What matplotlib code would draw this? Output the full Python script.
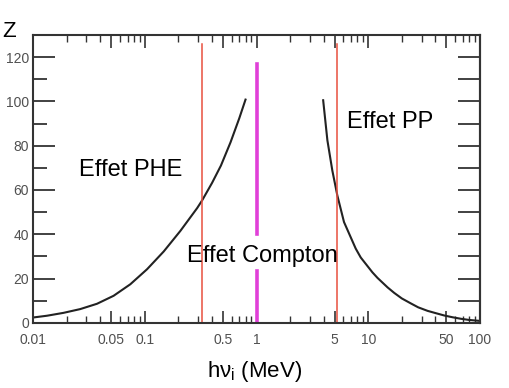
import numpy as np
import matplotlib.pyplot as plt
from matplotlib.ticker import FixedLocator, NullFormatter

# courbe limite PHE / Compton
phe_x = [0.01, 0.0133, 0.0187, 0.0264, 0.0373, 0.0525, 0.0741, 0.1047, 0.1475,
         0.208, 0.294, 0.326, 0.40, 0.48, 0.585, 0.70, 0.797]
phe_z = [2.4, 3.2, 4.5, 6.2, 8.6, 12.2, 17.4, 24.2, 32.2,
         41.5, 51.8, 55.3, 63.2, 71.0, 81.5, 92.3, 100.8]

# courbe limite Compton / PP
pp_x = [3.95, 4.31, 4.77, 5.29, 6.07, 7.73, 8.57, 10.9, 12.1, 14.9, 17.1, 20,
        24, 28, 34, 40, 48, 57, 68, 80, 98]
pp_z = [100.5, 82.4, 68.8, 57.5, 45.5, 33.5, 29.5, 22.8, 20.3, 16.0, 13.5, 11.0,
        8.8, 7.0, 5.4, 4.4, 3.3, 2.5, 1.8, 1.3, 0.9]

# lignes verticales
red_x = [0.326, 5.3]
red_top = 126
compton_x = 1.0
compton_segments = [(0, 23.5), (40.3, 117)]

x_ticks = [0.01, 0.05, 0.1, 0.5, 1, 5, 10, 50, 100]
x_labels = ['0.01', '0.05', '0.1', '0.5', '1', '5', '10', '50', '100']
y_ticks = [0, 20, 40, 60, 80, 100, 120]

plt.rcParams['font.family'] = ['Liberation Sans', 'DejaVu Sans']

fig = plt.figure(figsize=(5.1, 3.88), dpi=100)
ax = fig.add_axes([0.065, 0.168, 0.876, 0.742])

ax.plot(phe_x, phe_z, color='#222222', lw=1.5)
ax.plot(pp_x, pp_z, color='#222222', lw=1.5)

for xr in red_x:
    ax.plot([xr, xr], [0, red_top], color='#e8503f', lw=1.1)
for z0, z1 in compton_segments:
    ax.plot([compton_x, compton_x], [z0, z1], color='#e040d8', lw=2.6)

ax.set_xscale('log')
ax.set_xlim(0.01, 100)
ax.set_ylim(0, 130)

ax.xaxis.set_major_locator(FixedLocator(x_ticks))
ax.set_xticklabels(x_labels)
minors = [m * 10.0 ** d for d in range(-2, 2) for m in range(2, 10) if m != 5]
ax.xaxis.set_minor_locator(FixedLocator(minors))
ax.xaxis.set_minor_formatter(NullFormatter())

ax.set_yticks(y_ticks)
ax.yaxis.set_minor_locator(FixedLocator([10, 30, 50, 70, 90, 110]))

ax.tick_params(axis='x', which='major', direction='in', length=9, width=1.2,
               top=True, labelsize=10, labelcolor='#505050', pad=7, color='#333333')
ax.tick_params(axis='x', which='minor', direction='in', length=5, width=1.0,
               top=True, color='#333333')
ax.tick_params(axis='y', which='major', direction='in', length=16, width=1.3,
               labelsize=10, labelcolor='#505050', pad=3, color='#333333')
ax.tick_params(axis='y', which='minor', direction='in', length=10, width=1.3,
               color='#333333')

# graduations de droite
ax2 = ax.secondary_yaxis('right')
ax2.set_yticks(np.arange(0, 121, 10))
ax2.tick_params(direction='in', length=16, width=1.3, labelright=False, color='#333333')

for sp in list(ax.spines.values()) + list(ax2.spines.values()):
    sp.set_linewidth(1.5)
    sp.set_color('#333333')

ax.text(0.074, 69, 'Effet PHE', fontsize=17, ha='center', va='center')
ax.text(6.5, 90.5, 'Effet PP', fontsize=17, ha='left', va='center')
ax.text(1.13, 30.3, 'Effet Compton', fontsize=17, ha='center', va='center')

fig.text(0.004, 0.918, 'Z', fontsize=16, ha='left', va='center')
fig.text(0.5, 0.042, 'hν$_\\mathregular{i}$ (MeV)', fontsize=16, ha='center', va='center')

fig.savefig('out.png', dpi=100)
